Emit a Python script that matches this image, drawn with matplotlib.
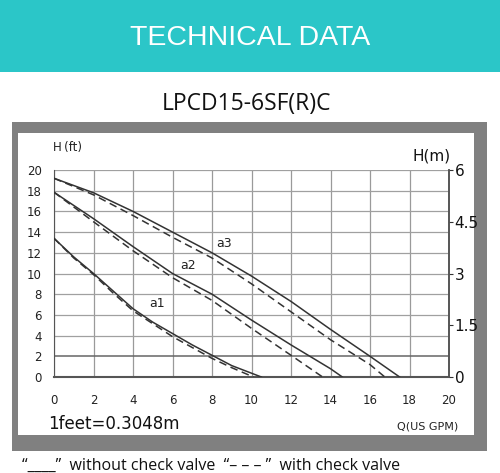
import matplotlib
matplotlib.use("Agg")
import matplotlib.pyplot as plt
from matplotlib.patches import Rectangle

# ---- data ----
a3_solid_q = [0, 2, 4, 6, 8, 10, 12, 14, 16, 17.5]
a3_solid_h = [19.2, 17.8, 16.0, 14.0, 12.0, 9.75, 7.3, 4.6, 2.0, 0]
a3_dash_q = [0, 2, 4, 6, 8, 10, 12, 14, 16, 16.75]
a3_dash_h = [19.2, 17.6, 15.6, 13.5, 11.5, 9.0, 6.3, 3.6, 1.2, 0]
a2_solid_q = [0, 2, 4, 6, 8, 10, 12, 14, 14.6]
a2_solid_h = [17.85, 15.3, 12.6, 10.0, 8.0, 5.5, 3.1, 0.8, 0]
a2_dash_q = [0, 2, 4, 6, 8, 10, 12, 13.6]
a2_dash_h = [17.85, 15.0, 12.2, 9.6, 7.4, 4.7, 2.1, 0]
a1_solid_q = [0, 1, 2, 3, 4, 5, 6, 7, 8, 9, 10.5]
a1_solid_h = [13.4, 11.6, 10.0, 8.3, 6.6, 5.3, 4.2, 3.1, 2.1, 1.1, 0]
a1_dash_q = [0, 1, 2, 3, 4, 6, 8, 9, 10.1]
a1_dash_h = [13.4, 11.5, 9.9, 8.1, 6.4, 3.9, 1.8, 0.9, 0]
x_ticks = list(range(0, 21, 2))
y_ticks = list(range(0, 21, 2))
m_ticks = [0, 1.5, 3, 4.5, 6]
m_labels = ["0", "1.5", "3", "4.5", "6"]
curve_labels = [("a3", 8.6, 12.9), ("a2", 6.8, 10.8), ("a1", 5.2, 7.1)]

W, H = 500, 473
fig = plt.figure(figsize=(W / 100, H / 100), dpi=100)
fig.patch.set_facecolor("white")

def fx(px):
    return px / W

def fy(py):
    return 1 - py / H

# banner
fig.patches.append(Rectangle((0, fy(72)), 1, 72 / H, transform=fig.transFigure,
                             facecolor="#2BC6C8", edgecolor="none", zorder=-5))
fig.text(0.5, fy(38), "TECHNICAL DATA", color="white", fontsize=20.5,
         family="Liberation Sans", ha="center", va="center")

fig.text(0.493, fy(104), "LPCD15-6SF(R)C", color="#111111", fontsize=16.5,
         family="Open Sans", ha="center", va="center")

# gray frame
fig.patches.append(Rectangle((fx(12), fy(451)), (487 - 12) / W, (451 - 122) / H,
                             transform=fig.transFigure, facecolor="#808080",
                             edgecolor="none", zorder=-5))
fig.patches.append(Rectangle((fx(18), fy(435)), (474 - 18) / W, (435 - 133) / H,
                             transform=fig.transFigure, facecolor="white",
                             edgecolor="none", zorder=-4))

ax = fig.add_axes([fx(54), fy(377), (449 - 54) / W, (377 - 170) / H])
ax.set_zorder(2)
ax.set_facecolor("none")
ax.set_xlim(0, 20)
ax.set_ylim(0, 20)
ax.set_xticks(x_ticks)
ax.set_yticks(y_ticks)
ax.set_xticklabels([str(v) for v in x_ticks])
ax.set_yticklabels([str(v) for v in y_ticks])
ax.tick_params(axis="both", length=0, labelsize=8.5, labelcolor="#222222")
ax.tick_params(axis="x", pad=12)
ax.tick_params(axis="y", pad=9)
for v in x_ticks:
    ax.axvline(v, color="#9a9a9a", lw=0.9, zorder=1)
for v in y_ticks:
    ax.axhline(v, color="#666666" if v == 2 else "#a0a0a0",
               lw=1.1 if v == 2 else 0.9, zorder=1)
ax.spines["top"].set_visible(False)
ax.spines["left"].set_color("#555555")
ax.spines["bottom"].set_color("#555555")
ax.spines["bottom"].set_linewidth(1.5)
ax.spines["right"].set_color("#555555")
ax.spines["right"].set_linewidth(1.2)

lc = "#333333"
ax.plot(a3_solid_q, a3_solid_h, color=lc, lw=1.1, zorder=3)
ax.plot(a3_dash_q, a3_dash_h, color=lc, lw=1.1, ls=(0, (5, 3)), zorder=3)
ax.plot(a2_solid_q, a2_solid_h, color=lc, lw=1.1, zorder=3)
ax.plot(a2_dash_q, a2_dash_h, color=lc, lw=1.1, ls=(0, (5, 3)), zorder=3)
ax.plot(a1_solid_q, a1_solid_h, color=lc, lw=1.1, zorder=3)
ax.plot(a1_dash_q, a1_dash_h, color=lc, lw=1.1, ls=(0, (5, 3)), zorder=3)
for name, qx, hy in curve_labels:
    ax.text(qx, hy, name, fontsize=9, color="#222222", ha="center", va="center", zorder=4)

ax2 = ax.twinx()
ax2.set_zorder(3)
ax2.set_ylim(0, 6)
ax2.set_yticks(m_ticks)
ax2.set_yticklabels(m_labels)
ax2.tick_params(axis="y", direction="out", length=3, width=0.8, pad=1,
                labelsize=11, labelcolor="#111111", color="#333333")
for s in ["top", "left", "bottom"]:
    ax2.spines[s].set_visible(False)
ax2.spines["right"].set_color("#555555")
ax2.spines["right"].set_linewidth(1.2)

fig.text(fx(53), fy(147), "H\u2009(ft)", fontsize=8.5, color="#222222",
         ha="left", va="center", family=["DejaVu Sans"])
fig.text(fx(432), fy(156), "H(m)", fontsize=11, color="#111111",
         ha="center", va="center")
fig.text(fx(48), fy(424), "1feet=0.3048m", fontsize=12, color="#111111",
         ha="left", va="center")
fig.text(fx(458), fy(426), "Q(US GPM)", fontsize=8, color="#222222",
         ha="right", va="center")
fig.text(fx(22), fy(466), "\u201c____\u201d  without check valve  \u201c\u2013 \u2013 \u2013 \u201d  with check valve",
         fontsize=11.5, color="#111111", ha="left", va="center", family="Open Sans")

fig.savefig("out.png", dpi=100)
